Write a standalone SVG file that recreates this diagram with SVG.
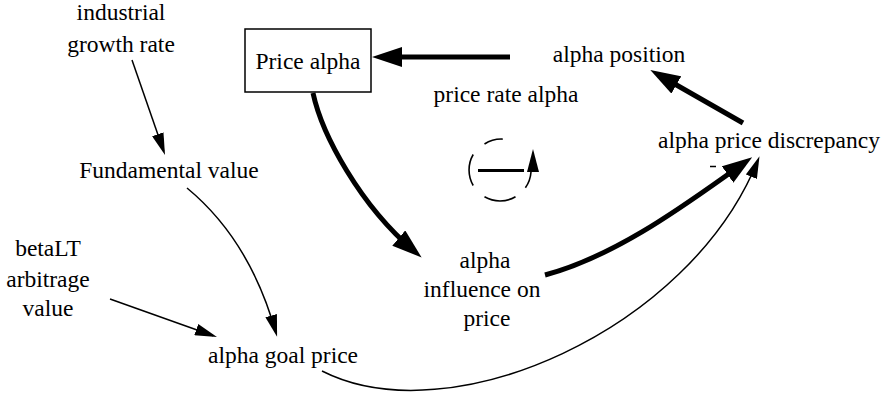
<svg xmlns="http://www.w3.org/2000/svg" width="889" height="398" viewBox="0 0 889 398">
<style>
text{font-family:"Liberation Serif","Times New Roman",serif;font-size:23.5px;fill:#000;text-anchor:middle}
.thin{fill:none;stroke:#000;stroke-width:1.5}
.thick{fill:none;stroke:#000;stroke-width:5}
.loop{fill:none;stroke:#000;stroke-width:1.6}
</style>
<defs>
<marker id="ah" markerUnits="userSpaceOnUse" viewBox="0 0 30 20" markerWidth="30" markerHeight="20" refX="20" refY="10" orient="auto"><path d="M0,0 L30,10 L0,20 z" fill="#000"/></marker>
<marker id="al" markerUnits="userSpaceOnUse" viewBox="0 0 22 12" markerWidth="22" markerHeight="12" refX="18" refY="6" orient="auto"><path d="M0,0 L22,6 L0,12 z" fill="#000"/></marker>
</defs>
<g id="connectors">
<path class="thick" d="M510,57 L382,57" marker-end="url(#ah)"/>
<path class="thick" d="M743,123 L659,75" marker-end="url(#ah)"/>
<path class="thick" d="M313,93 C322,135 360,205 414,251" marker-end="url(#ah)"/>
<path class="thick" d="M545,275 C620,255 694,198 744,163" marker-end="url(#ah)"/>
<path class="thin" d="M322,371 C450,436 690,330 758,160" marker-end="url(#al)"/>
<path class="thin" d="M187,188 Q250,240 276,333" marker-end="url(#al)"/>
<path class="thin" d="M132,60 L163.7,151.2" marker-end="url(#al)"/>
<path class="thin" d="M110,299 L213.2,335.7" marker-end="url(#al)"/>
<path d="M710,166.5 L716,166.5" stroke="#000" stroke-width="1.5"/>
</g>
<g id="loop">
<path class="loop" d="M484.5,144 A31,31 0 0 1 502.7,139.1"/>
<path class="loop" d="M473.2,154.5 A31,31 0 0 0 473.2,185.5"/>
<path class="loop" d="M484.5,196.8 A31,31 0 0 0 515.5,196.8"/>
<path class="loop" d="M531,172 A31,31 0 0 1 525.4,187.8"/>
<path d="M478,170.5 L524,170.5" stroke="#000" stroke-width="3"/>
<path d="M533,149 L539,172 L527,172 z" fill="#000"/>
</g>
<g id="price-alpha">
<rect x="245" y="29" width="126" height="63" fill="#fff" stroke="#000" stroke-width="1.5"/>
<text x="308" y="69">Price alpha</text>
</g>
<g id="alpha-position"><text x="619" y="62">alpha position</text></g>
<g id="price-rate-alpha"><text x="506" y="102">price rate alpha</text></g>
<g id="alpha-price-discrepancy"><text x="769" y="148">alpha price discrepancy</text></g>
<g id="industrial-growth-rate"><text x="121" y="20">industrial</text><text x="121" y="52">growth rate</text></g>
<g id="fundamental-value"><text x="169" y="178">Fundamental value</text></g>
<g id="betalt-arbitrage-value"><text x="48" y="256">betaLT</text><text x="48" y="287">arbitrage</text><text x="48" y="316">value</text></g>
<g id="alpha-goal-price"><text x="283" y="363">alpha goal price</text></g>
<g id="alpha-influence-on-price"><text x="485" y="268">alpha</text><text x="482" y="297">influence on</text><text x="487" y="326">price</text></g>
</svg>
